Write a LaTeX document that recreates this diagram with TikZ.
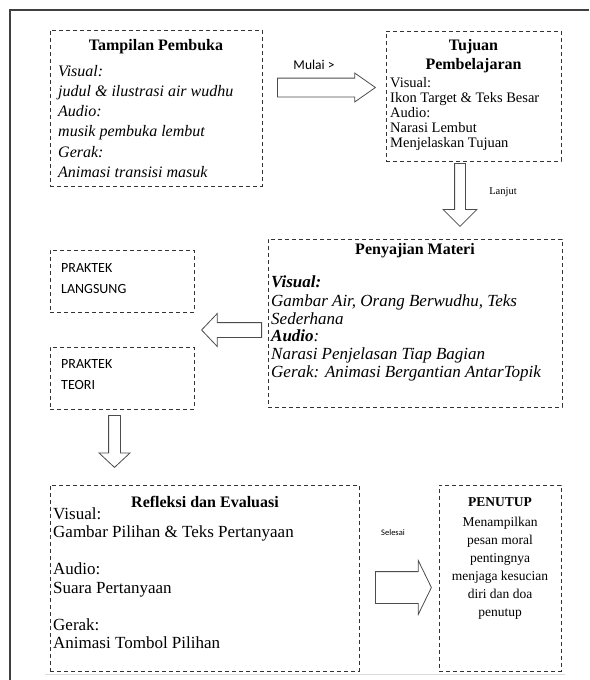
\documentclass[tikz,border=0pt]{standalone}
\usepackage{fontspec}
\setmainfont{Liberation Serif}
\setsansfont{Carlito}
\usetikzlibrary{shapes.arrows}
\tikzset{
  box/.style={draw=black!80, line width=0.9pt, dash pattern=on 4pt off 3pt, inner sep=0pt},
  boxtitle/.style={font=\fontsize{16}{19}\selectfont\bfseries, align=center, inner sep=0pt},
  blockarrow/.style={single arrow, draw=black!70, line width=0.8pt, fill=white,
    inner xsep=0pt, single arrow head indent=0pt},
  smalllabel/.style={font=\sffamily\fontsize{13.5}{15}\selectfont, inner sep=0pt}
}
\begin{document}
\begin{tikzpicture}[x=1pt,y=-1pt]
\useasboundingbox (0,0) rectangle (589,680);
% outer frame
\coordinate (fa) at (10,680);
\coordinate (fb) at (10,10);
\coordinate (fc) at (589,10);
\draw[line width=1.2pt, black!75] (fa) -- (fb) -- (fc);
\coordinate (ga) at (45,674);
\coordinate (gb) at (565,674);
\draw[black!15, line width=0.8pt] (ga) -- (gb);
% boxes
\node[box, minimum width=212pt, minimum height=156pt] (pembuka) at (156,108) {};
\node[box, minimum width=175pt, minimum height=130pt] (tujuan) at (473.5,96) {};
\node[box, minimum width=294pt, minimum height=168pt] (materi) at (415,323) {};
\node[box, minimum width=144pt, minimum height=62pt] (langsung) at (122,281) {};
\node[box, minimum width=144pt, minimum height=62pt] (teori) at (122,378) {};
\node[box, minimum width=309pt, minimum height=186pt] (refleksi) at (204.5,578) {};
\node[box, minimum width=122pt, minimum height=186pt] (penutup) at (500,578) {};
% texts
\node[boxtitle] (pembuka-t) at (156,47) {Tampilan Pembuka};
\node[anchor=north west, inner sep=0pt, align=left,
  font=\fontsize{16}{20.2}\selectfont\itshape] (pembuka-b) at (58,65)
  {Visual:\\judul \& ilustrasi air wudhu\\Audio:\\musik pembuka lembut\\Gerak:\\Animasi transisi masuk};
\node[boxtitle] (tujuan-t) at (473.5,56.5) {Tujuan\\Pembelajaran};
\node[anchor=north west, inner sep=0pt, align=left,
  font=\fontsize{14.5}{15}\selectfont] (tujuan-b) at (390,77)
  {Visual:\\Ikon Target \& Teks Besar\\Audio:\\Narasi Lembut\\Menjelaskan Tujuan};
\node[boxtitle] (materi-t) at (415,251) {Penyajian Materi};
\node[anchor=north west, inner sep=0pt, align=left,
  font=\fontsize{17}{18}\selectfont\itshape] (materi-b) at (271,276)
  {\textbf{Visual:}\\Gambar Air, Orang Berwudhu, Teks\\Sederhana\\\textbf{Audio}:\\
   Narasi Penjelasan Tiap Bagian\\Gerak: Animasi Bergantian AntarTopik};
\node[anchor=north west, inner sep=0pt, align=left,
  font=\sffamily\fontsize{14}{21}\selectfont] (langsung-b) at (61,263) {PRAKTEK\\LANGSUNG};
\node[anchor=north west, inner sep=0pt, align=left,
  font=\sffamily\fontsize{14}{21}\selectfont] (teori-b) at (61,359) {PRAKTEK\\TEORI};
\node[boxtitle] (refleksi-t) at (205,502) {Refleksi dan Evaluasi};
\node[anchor=north west, inner sep=0pt, align=left,
  font=\fontsize{17}{18.5}\selectfont] (refleksi-b) at (53,507)
  {Visual:\\Gambar Pilihan \& Teks Pertanyaan\\[18.5pt]Audio:\\Suara Pertanyaan\\[18.5pt]Gerak:\\Animasi Tombol Pilihan};
\node[boxtitle, font=\fontsize{13.5}{15}\selectfont\bfseries] (penutup-t) at (500,502) {PENUTUP};
\node[anchor=north, inner sep=0pt, align=center,
  font=\fontsize{13.5}{18}\selectfont] (penutup-b) at (500,517)
  {Menampilkan\\pesan moral\\pentingnya\\menjaga kesucian\\diri dan doa\\penutup};
% block arrows
\node[blockarrow, anchor=tail, inner ysep=9pt, single arrow head extend=5pt,
  single arrow tip angle=70, minimum height=98pt] (mulai) at (277,87.5) {};
\node[blockarrow, anchor=tail, rotate=-90, inner ysep=5pt, single arrow head extend=11.5pt,
  minimum height=63pt] (lanjut) at (460,163) {};
\node[blockarrow, anchor=tail, rotate=180, inner ysep=7pt, single arrow head extend=9pt,
  single arrow tip angle=93, minimum height=60pt] (kiri) at (262,330) {};
\node[blockarrow, anchor=tail, rotate=-90, inner ysep=5.5pt, single arrow head extend=9.5pt,
  single arrow tip angle=94, minimum height=52pt] (turun) at (114.5,415) {};
\node[blockarrow, anchor=tail, inner ysep=15.5pt, single arrow head extend=11pt,
  single arrow tip angle=128, minimum height=56pt] (selesai) at (375,587.5) {};
% arrow labels
\node[smalllabel] (mulai-l) at (314,65) {Mulai >};
\node[inner sep=0pt, font=\fontsize{10.5}{12}\selectfont] (lanjut-l) at (503,192) {Lanjut};
\node[smalllabel, font=\sffamily\fontsize{8.5}{10}\selectfont] (selesai-l) at (393,533) {Selesai};
\end{tikzpicture}
\end{document}
